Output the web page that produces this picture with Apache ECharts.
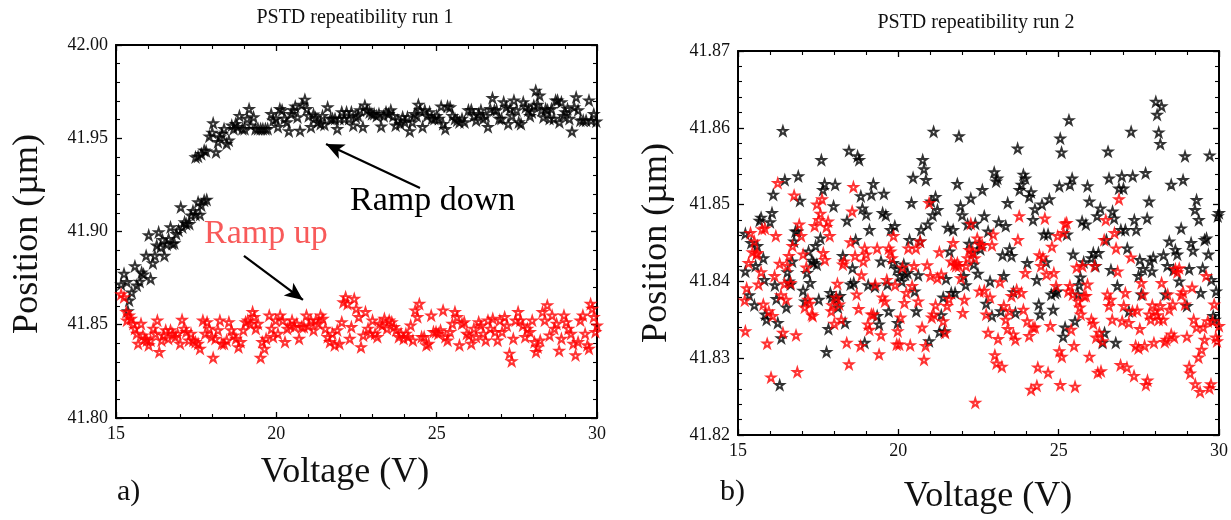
<!DOCTYPE html>
<html><head><meta charset="utf-8">
<script src="https://cdn.jsdelivr.net/npm/echarts@6/dist/echarts.min.js"></script>
<style>html,body{margin:0;padding:0;background:#fff}#c{width:1231px;height:520px}</style>
</head><body><div id="c"></div>
<script>
// ---------- axis ranges / ticks ----------
const xRange = [15, 30], xStep = 5;
const yRange1 = [41.80, 42.00], yStep1 = 0.05;
const yRange2 = [41.82, 41.87], yStep2 = 0.01;
const titles = ['PSTD repeatibility run 1', 'PSTD repeatibility run 2'];

// ---------- run 1 (panel a) ----------
const run1Down = [
[15.16,41.8716],[15.25,41.8773],[15.34,41.8729],[15.41,41.863],[15.37,41.8573],[15.49,41.8673],[15.59,41.8814],[15.65,41.871],[15.74,41.873],[15.80,41.878],
[15.86,41.877],[15.94,41.887],[16.02,41.898],[16.08,41.8746],[16.15,41.883],[16.21,41.887],[16.27,41.8925],[16.33,41.8996],[16.39,41.8916],[16.45,41.8955],
[16.51,41.887],[16.58,41.893],[16.64,41.896],[16.70,41.9023],[16.76,41.8934],[16.82,41.8937],[16.88,41.8987],[16.95,41.9005],[17.02,41.913],[17.07,41.9023],
[17.14,41.905],[17.19,41.904],[17.29,41.904],[17.34,41.9086],[17.40,41.911],[17.48,41.909],[17.56,41.9157],[17.62,41.909],[17.66,41.914],[17.75,41.9166],[17.83,41.917],
[17.48,41.9398],[17.56,41.9402],[17.66,41.9416],[17.75,41.9434],[17.81,41.943],[17.91,41.951],[18.00,41.953],[18.03,41.958],[18.12,41.9425],[18.18,41.948],
[18.24,41.9505],[18.30,41.9523],[18.37,41.955],[18.45,41.947],[18.52,41.9488],[18.61,41.9568],[18.67,41.955],[18.73,41.9577],[18.79,41.956],[18.85,41.962],
[18.94,41.955],[19.01,41.955],[19.09,41.9604],[19.15,41.9657],[19.21,41.9568],[19.29,41.9613],[19.35,41.955],[19.43,41.955],[19.51,41.955],[19.58,41.955],
[19.66,41.955],[19.73,41.955],[19.84,41.963],[19.90,41.9595],[19.99,41.9604],[20.05,41.956],[20.11,41.9657],[20.18,41.965],[20.25,41.9604],[20.33,41.9586],
[20.39,41.9538],[20.46,41.963],[20.52,41.965],[20.59,41.967],[20.66,41.9613],[20.74,41.954],[20.80,41.968],[20.89,41.9707],[20.95,41.9657],[21.01,41.962],
[21.08,41.956],[21.16,41.9627],[21.22,41.961],[21.29,41.9586],[21.38,41.9577],[21.44,41.962],[21.50,41.9573],[21.60,41.9666],[21.69,41.9604],[21.75,41.9604],
[21.83,41.9604],[21.90,41.955],[21.97,41.9604],[22.04,41.964],[22.12,41.9604],[22.19,41.964],[22.27,41.9604],[22.34,41.964],[22.40,41.9568],[22.48,41.9613],
[22.55,41.962],[22.61,41.965],[22.70,41.956],[22.76,41.9675],[22.83,41.965],[22.91,41.964],[22.98,41.963],[23.05,41.963],[23.13,41.962],[23.20,41.963],
[23.27,41.9563],[23.35,41.962],[23.42,41.964],[23.50,41.963],[23.57,41.965],[23.65,41.962],[23.72,41.9568],[23.79,41.9595],[23.87,41.9577],[23.94,41.9613],
[24.01,41.9586],[24.09,41.9613],[24.16,41.9538],[24.24,41.9586],[24.31,41.963],[24.38,41.962],[24.43,41.968],[24.48,41.965],[24.56,41.956],[24.63,41.965],
[24.70,41.962],[24.78,41.964],[24.85,41.9604],[24.93,41.9604],[25.00,41.962],[25.07,41.9604],[25.14,41.967],[25.20,41.9577],[25.27,41.955],[25.34,41.967],
[25.42,41.9666],[25.49,41.962],[25.57,41.9604],[25.64,41.9595],[25.71,41.9586],[25.79,41.9604],[25.87,41.9586],[25.99,41.965],[26.08,41.9652],[26.16,41.962],
[26.23,41.9595],[26.31,41.963],[26.38,41.965],[26.45,41.9604],[26.53,41.962],[26.60,41.956],[26.67,41.9657],[26.74,41.9716],[26.80,41.965],[26.87,41.965],
[26.95,41.9604],[27.02,41.9604],[27.09,41.9693],[27.17,41.9666],[27.23,41.9577],[27.29,41.9657],[27.35,41.962],[27.41,41.9702],[27.49,41.965],[27.56,41.9586],
[27.63,41.9577],[27.70,41.9693],[27.78,41.9666],[27.86,41.965],[27.91,41.962],[27.97,41.964],[28.03,41.9675],[28.09,41.9755],[28.15,41.968],[28.21,41.9729],
[28.27,41.965],[28.33,41.9613],[28.40,41.9657],[28.46,41.965],[28.52,41.9604],[28.58,41.9657],[28.65,41.9604],[28.71,41.9702],[28.77,41.9702],[28.83,41.9586],
[28.89,41.9693],[28.95,41.962],[29.01,41.964],[29.08,41.9657],[29.14,41.9604],[29.22,41.9536],[29.29,41.9666],[29.35,41.972],[29.41,41.965],[29.48,41.9595],
[29.57,41.9595],[29.66,41.9595],[29.75,41.9702],[29.82,41.9595],[29.90,41.963],[29.98,41.959]
];
const run1Up = [
[15.16,41.8663],[15.25,41.8648],[15.32,41.8568],[15.34,41.8523],[15.41,41.855],[15.47,41.8532],[15.54,41.8505],[15.59,41.8479],[15.65,41.8452],[15.69,41.8398],
[15.78,41.8505],[15.84,41.8443],[15.90,41.8425],[15.96,41.8416],[16.02,41.839],[16.08,41.8416],[16.16,41.8479],[16.23,41.8452],[16.29,41.8523],[16.35,41.8354],
[16.42,41.8416],[16.48,41.8443],[16.55,41.847],[16.63,41.8425],[16.70,41.847],[16.77,41.8452],[16.85,41.8434],[16.92,41.8452],[17.00,41.8398],[17.06,41.8527],
[17.12,41.8479],[17.19,41.8461],[17.27,41.8416],[17.34,41.8452],[17.41,41.8416],[17.48,41.8407],[17.56,41.8398],[17.62,41.8371],[17.71,41.8523],[17.78,41.8452],
[17.84,41.8514],[17.91,41.8479],[17.98,41.8434],[18.03,41.8323],[18.10,41.8425],[18.18,41.847],[18.24,41.8523],[18.30,41.8398],[18.37,41.8398],[18.45,41.8416],
[18.52,41.8514],[18.60,41.847],[18.67,41.8443],[18.74,41.8425],[18.82,41.838],[18.89,41.8407],[18.97,41.847],[19.04,41.8514],[19.11,41.8523],[19.19,41.8505],
[19.26,41.8568],[19.31,41.8541],[19.36,41.8479],[19.43,41.8505],[19.51,41.8323],[19.56,41.8407],[19.63,41.8371],[19.68,41.8425],[19.78,41.855],[19.85,41.8479],
[19.90,41.8434],[19.98,41.8523],[20.05,41.8452],[20.12,41.855],[20.20,41.8523],[20.27,41.8407],[20.34,41.8479],[20.42,41.8496],[20.49,41.8523],[20.57,41.8488],
[20.64,41.8505],[20.71,41.8425],[20.79,41.8488],[20.86,41.8488],[20.94,41.855],[21.01,41.8496],[21.08,41.8523],[21.16,41.847],[21.23,41.8523],[21.31,41.8505],
[21.38,41.855],[21.45,41.8532],[21.53,41.8479],[21.60,41.8434],[21.67,41.8407],[21.75,41.8452],[21.82,41.839],[21.90,41.847],[21.97,41.8398],[22.04,41.8514],
[22.09,41.8621],[22.16,41.8648],[22.22,41.8612],[22.29,41.8425],[22.34,41.8488],[22.43,41.8639],[22.49,41.8586],[22.57,41.8541],[22.64,41.838],[22.71,41.8443],
[22.78,41.8568],[22.86,41.8479],[22.93,41.8452],[23.00,41.8523],[23.08,41.8452],[23.15,41.8434],[23.23,41.8505],[23.30,41.8496],[23.37,41.8532],[23.45,41.8479],
[23.52,41.8523],[23.60,41.8514],[23.67,41.8488],[23.74,41.847],[23.82,41.8434],[23.89,41.8452],[23.97,41.8425],[24.04,41.8452],[24.11,41.8434],[24.19,41.8496],
[24.26,41.8416],[24.33,41.8577],[24.40,41.8541],[24.46,41.8612],[24.53,41.8434],[24.61,41.8434],[24.68,41.839],[24.75,41.8398],[24.83,41.855],[24.90,41.8461],
[24.98,41.8461],[25.05,41.8452],[25.12,41.847],[25.20,41.8577],[25.27,41.8434],[25.34,41.8416],[25.42,41.8461],[25.49,41.8505],[25.57,41.8568],[25.64,41.8541],
[25.71,41.839],[25.79,41.8505],[25.86,41.8514],[25.94,41.8452],[26.01,41.8443],[26.08,41.8398],[26.16,41.8479],[26.23,41.8434],[26.31,41.8514],[26.38,41.8496],
[26.45,41.8452],[26.53,41.8416],[26.60,41.8523],[26.67,41.8479],[26.75,41.8532],[26.82,41.8461],[26.90,41.8416],[26.97,41.8523],[27.04,41.8461],[27.12,41.8541],
[27.19,41.8496],[27.27,41.8345],[27.34,41.8305],[27.39,41.8425],[27.46,41.8523],[27.54,41.8568],[27.61,41.8523],[27.69,41.8496],[27.76,41.8434],[27.83,41.8479],
[27.91,41.8461],[27.98,41.8523],[28.05,41.8407],[28.10,41.8354],[28.15,41.838],[28.23,41.8416],[28.30,41.8568],[28.37,41.8523],[28.45,41.8604],[28.52,41.8443],
[28.60,41.855],[28.67,41.8479],[28.74,41.8505],[28.82,41.8361],[28.89,41.8425],[28.97,41.855],[29.04,41.8514],[29.11,41.8479],[29.19,41.8452],[29.26,41.8398],
[29.33,41.8336],[29.41,41.8407],[29.48,41.8523],[29.56,41.855],[29.63,41.8452],[29.70,41.839],[29.75,41.8371],[29.80,41.8612],[29.85,41.8586],[29.90,41.8541],
[29.95,41.8461],[30.00,41.8496]
];

// ---------- run 2 (panel b) ----------
const run2Black = [
[15.23,41.8462],[15.23,41.8413],[15.35,41.8382],[15.41,41.845],[15.51,41.8369],[15.55,41.842],[15.60,41.8446],[15.67,41.8479],[15.72,41.8483],[15.79,41.843],
[15.82,41.8402],[15.85,41.8357],[15.89,41.835],[16.00,41.8477],[16.06,41.8489],[16.10,41.8513],[16.15,41.8395],[16.20,41.8377],[16.24,41.8346],[16.30,41.8265],
[16.35,41.8326],[16.40,41.8596],[16.46,41.8532],[16.51,41.8366],[16.54,41.8412],[16.59,41.84],[16.64,41.8396],[16.69,41.8426],[16.75,41.8452],[16.79,41.8465],
[16.85,41.8465],[16.88,41.8537],[16.93,41.8505],[17.03,41.8388],[17.09,41.8374],[17.15,41.8411],[17.20,41.8439],[17.25,41.8398],[17.31,41.8427],[17.36,41.8424],
[17.42,41.8446],[17.46,41.8422],[17.52,41.8376],[17.57,41.8456],[17.60,41.8558],[17.65,41.8519],[17.70,41.8527],[17.76,41.8308],[17.82,41.8338],[17.88,41.8385],
[17.92,41.8379],[17.98,41.8498],[18.03,41.8526],[18.08,41.8377],[18.12,41.8366],[18.18,41.8381],[18.27,41.8433],[18.34,41.8346],[18.40,41.8479],[18.46,41.857],
[18.51,41.8396],[18.57,41.8417],[18.61,41.8398],[18.67,41.8454],[18.73,41.8563],[18.78,41.8558],[18.83,41.8511],[18.88,41.8495],[18.95,41.832],[19.00,41.8487],
[19.06,41.8395],[19.10,41.8467],[19.16,41.8513],[19.22,41.8527],[19.27,41.8393],[19.34,41.8355],[19.40,41.8344],[19.46,41.8426],[19.51,41.8489],[19.55,41.8514],
[19.61,41.8486],[19.66,41.8396],[19.70,41.8361],[19.76,41.8467],[19.83,41.8424],[19.89,41.8472],[19.95,41.8416],[19.98,41.8346],[20.04,41.8407],[20.11,41.84],
[20.17,41.8422],[20.21,41.8409],[20.29,41.8411],[20.35,41.8454],[20.41,41.8502],[20.46,41.8535],[20.51,41.8387],[20.56,41.8361],[20.62,41.8408],[20.68,41.8452],
[20.71,41.8467],[20.76,41.8558],[20.80,41.8546],[20.86,41.8532],[20.92,41.8474],[20.96,41.8322],[21.02,41.8504],[21.07,41.8486],[21.10,41.8595],[21.16,41.851],
[21.22,41.8493],[21.28,41.8334],[21.34,41.8356],[21.40,41.8379],[21.44,41.8335],[21.49,41.8403],[21.54,41.847],[21.60,41.8439],[21.65,41.8385],[21.71,41.8467],
[21.77,41.8385],[21.84,41.8527],[21.89,41.8589],[21.94,41.8498],[21.99,41.8486],[22.04,41.8407],[22.10,41.8395],[22.16,41.8474],[22.21,41.8449],[22.26,41.8508],
[22.32,41.8437],[22.35,41.8422],[22.40,41.8475],[22.48,41.841],[22.53,41.8449],[22.56,41.8442],[22.62,41.8519],[22.68,41.8485],[22.74,41.8371],[22.80,41.8465],
[22.86,41.84],[22.92,41.8355],[22.99,41.8542],[23.05,41.853],[23.09,41.8534],[23.13,41.8477],[23.20,41.8361],[23.25,41.8434],[23.29,41.8407],[23.35,41.8472],
[23.41,41.8502],[23.47,41.8442],[23.53,41.8433],[23.59,41.8386],[23.65,41.8359],[23.72,41.8573],[23.78,41.8519],[23.84,41.8526],[23.90,41.8539],[23.96,41.8534],
[24.02,41.8424],[24.08,41.851],[24.14,41.8516],[24.20,41.848],[24.26,41.8494],[24.32,41.8402],[24.38,41.837],[24.42,41.8357],[24.48,41.85],[24.54,41.8461],
[24.61,41.8425],[24.67,41.8461],[24.71,41.8507],[24.77,41.8383],[24.83,41.8363],[24.89,41.8385],[24.95,41.8387],[25.02,41.8524],[25.05,41.8586],[25.09,41.8568],
[25.14,41.8328],[25.20,41.834],[25.26,41.8461],[25.32,41.861],[25.35,41.8526],[25.42,41.8534],[25.45,41.8435],[25.51,41.8348],[25.60,41.8383],[25.64,41.8395],
[25.68,41.8405],[25.73,41.8478],[25.78,41.8425],[25.85,41.8474],[25.90,41.8524],[25.96,41.8504],[26.02,41.843],[26.08,41.8437],[26.15,41.842],[26.20,41.8485],
[26.24,41.8437],[26.30,41.8495],[26.37,41.832],[26.43,41.8333],[26.49,41.8454],[26.54,41.8569],[26.57,41.8534],[26.63,41.8415],[26.68,41.8491],[26.73,41.8482],
[26.78,41.832],[26.83,41.8394],[26.88,41.8521],[26.94,41.8467],[26.97,41.8537],[27.02,41.8521],[27.08,41.8467],[27.14,41.8443],[27.19,41.8361],[27.26,41.8595],
[27.31,41.8537],[27.36,41.848],[27.42,41.8467],[27.49,41.8407],[27.53,41.8428],[27.58,41.8383],[27.63,41.8416],[27.71,41.8541],[27.76,41.8482],[27.82,41.8504],
[27.85,41.8426],[27.91,41.8413],[27.95,41.8431],[28.03,41.8634],[28.07,41.8617],[28.12,41.8594],[28.17,41.8579],[28.21,41.8628],[28.27,41.8434],[28.33,41.8383],
[28.39,41.842],[28.45,41.8452],[28.51,41.8526],[28.58,41.8415],[28.64,41.8441],[28.70,41.8435],[28.76,41.84],[28.82,41.8469],[28.88,41.8532],[28.94,41.8563],
[29.00,41.8368],[29.07,41.8416],[29.13,41.845],[29.19,41.844],[29.25,41.8493],[29.30,41.8506],[29.37,41.848],[29.43,41.8385],[29.49,41.8417],[29.55,41.8454],
[29.61,41.8456],[29.67,41.8435],[29.71,41.8564],[29.76,41.8402],[29.82,41.8355],[29.87,41.835],[29.91,41.8387],[29.96,41.8485],[30.00,41.8489]
];
const run2Red = [
[15.21,41.8375],[15.23,41.8335],[15.27,41.8391],[15.33,41.8424],[15.39,41.8463],[15.45,41.8438],[15.51,41.8452],[15.57,41.8435],[15.60,41.8437],[15.64,41.8396],
[15.72,41.8412],[15.75,41.8468],[15.79,41.837],[15.84,41.8469],[15.91,41.8319],[15.96,41.8361],[16.03,41.8275],[16.08,41.8355],[16.14,41.8407],[16.18,41.8459],
[16.24,41.8528],[16.30,41.8423],[16.34,41.8382],[16.40,41.8333],[16.45,41.8397],[16.50,41.8376],[16.54,41.842],[16.59,41.8433],[16.64,41.8398],[16.70,41.8446],
[16.75,41.8512],[16.81,41.833],[16.85,41.8282],[16.91,41.8474],[16.97,41.8459],[17.03,41.8435],[17.08,41.8366],[17.13,41.8418],[17.18,41.8376],[17.24,41.8371],
[17.30,41.8357],[17.33,41.8355],[17.39,41.8472],[17.46,41.85],[17.52,41.848],[17.57,41.8488],[17.62,41.8507],[17.66,41.8437],[17.71,41.8428],[17.76,41.8471],
[17.81,41.8478],[17.86,41.8459],[17.91,41.8361],[17.94,41.8369],[18.00,41.8345],[18.06,41.8379],[18.10,41.8397],[18.16,41.837],[18.22,41.835],[18.27,41.8422],
[18.31,41.8426],[18.39,41.832],[18.46,41.8292],[18.51,41.8451],[18.56,41.8491],[18.60,41.8523],[18.65,41.8433],[18.70,41.8383],[18.76,41.8364],[18.82,41.8316],
[18.85,41.8408],[18.91,41.8426],[18.95,41.8443],[19.00,41.8435],[19.05,41.8344],[19.10,41.8337],[19.16,41.8357],[19.22,41.8357],[19.28,41.8396],[19.34,41.8443],
[19.40,41.8305],[19.46,41.833],[19.51,41.8379],[19.58,41.8374],[19.64,41.8402],[19.70,41.8443],[19.76,41.8439],[19.80,41.843],[19.85,41.8459],[19.90,41.8395],
[19.95,41.8318],[19.98,41.8335],[20.03,41.8318],[20.07,41.8353],[20.13,41.8418],[20.19,41.8372],[20.25,41.8385],[20.31,41.8443],[20.37,41.8317],[20.43,41.8394],
[20.49,41.842],[20.55,41.8443],[20.62,41.8374],[20.68,41.8452],[20.74,41.834],[20.80,41.8298],[20.85,41.8316],[20.90,41.8421],[20.96,41.8502],[21.00,41.8407],
[21.04,41.8353],[21.10,41.8357],[21.16,41.8369],[21.22,41.8404],[21.28,41.8438],[21.34,41.8409],[21.40,41.8348],[21.46,41.8333],[21.52,41.8368],[21.58,41.8377],
[21.65,41.8426],[21.71,41.845],[21.75,41.8422],[21.80,41.842],[21.84,41.8424],[21.89,41.842],[21.95,41.8404],[22.01,41.8359],[22.06,41.8376],[22.11,41.842],
[22.16,41.843],[22.21,41.8441],[22.26,41.8475],[22.32,41.8439],[22.38,41.843],[22.40,41.8242],[22.46,41.8456],[22.53,41.8387],[22.58,41.8447],[22.62,41.8447],
[22.68,41.8388],[22.74,41.8357],[22.80,41.8333],[22.86,41.8379],[22.92,41.8447],[22.96,41.8461],[23.01,41.8304],[23.06,41.8293],[23.11,41.8325],[23.17,41.8399],
[23.23,41.8289],[23.29,41.8368],[23.35,41.835],[23.41,41.8338],[23.47,41.8361],[23.53,41.8381],[23.59,41.8331],[23.65,41.8324],[23.69,41.8389],[23.73,41.8454],
[23.77,41.8485],[23.84,41.8385],[23.90,41.8363],[23.96,41.8411],[24.02,41.8348],[24.08,41.8329],[24.14,41.8259],[24.20,41.834],[24.26,41.834],[24.32,41.8264],
[24.35,41.8288],[24.40,41.8434],[24.45,41.842],[24.51,41.8431],[24.57,41.8482],[24.62,41.8409],[24.67,41.8281],[24.74,41.8342],[24.79,41.8445],[24.85,41.8411],
[24.92,41.8394],[24.97,41.8459],[25.02,41.8309],[25.05,41.8265],[25.10,41.8302],[25.15,41.8463],[25.20,41.8475],[25.25,41.8476],[25.30,41.8387],[25.35,41.8394],
[25.39,41.8337],[25.44,41.8383],[25.48,41.8316],[25.51,41.8263],[25.56,41.8418],[25.61,41.8374],[25.66,41.8366],[25.69,41.8357],[25.74,41.842],[25.79,41.8381],
[25.85,41.8381],[25.90,41.8396],[25.96,41.8302],[26.02,41.835],[26.08,41.8345],[26.12,41.842],[26.17,41.8327],[26.22,41.8281],[26.27,41.8333],[26.32,41.8283],
[26.37,41.8322],[26.42,41.8454],[26.47,41.848],[26.52,41.8383],[26.57,41.8368],[26.62,41.8376],[26.67,41.835],[26.74,41.8463],[26.79,41.8443],[26.84,41.8413],
[26.88,41.8507],[26.93,41.8291],[26.98,41.8348],[27.03,41.8368],[27.08,41.8385],[27.13,41.8288],[27.19,41.8346],[27.25,41.8431],[27.30,41.8361],[27.35,41.8277],
[27.40,41.8316],[27.45,41.8362],[27.49,41.8313],[27.53,41.8338],[27.58,41.8398],[27.63,41.8383],[27.68,41.8316],[27.72,41.8265],[27.77,41.8271],[27.82,41.8357],
[27.87,41.835],[27.92,41.8369],[27.97,41.832],[28.02,41.8361],[28.07,41.8356],[28.12,41.835],[28.17,41.8368],[28.21,41.8398],[28.26,41.835],[28.31,41.8321],
[28.36,41.8324],[28.40,41.8383],[28.45,41.8363],[28.51,41.8331],[28.56,41.837],[28.60,41.8327],[28.64,41.8416],[28.70,41.8412],[28.76,41.8417],[28.82,41.8382],
[28.88,41.8386],[28.94,41.837],[29.00,41.8328],[29.07,41.8289],[29.10,41.828],[29.16,41.8392],[29.21,41.835],[29.26,41.8266],[29.30,41.834],[29.36,41.8301],
[29.41,41.8256],[29.46,41.8311],[29.51,41.834],[29.55,41.8324],[29.60,41.8407],[29.65,41.8348],[29.70,41.8261],[29.75,41.8266],[29.80,41.8348],[29.85,41.837],
[29.90,41.8327],[29.94,41.8322],[30.00,41.8342]
];

// annotation arrows (data coordinates of panel a): [from, to]
const arrowDown = [[24.48, 41.9233], [21.55, 41.9469]];
const arrowUp   = [[18.99, 41.8869], [20.83, 41.8633]];

const STAR = 'path://M50,2 L61,36 L97,36 L68,57 L79,92 L50,71 L21,92 L32,57 L3,36 L39,36 Z';
const SERIF = 'Liberation Serif';
const chart = echarts.init(document.getElementById('c'));

function xAx(grid, pos, showLabel) {
  return {
    type: 'value', gridIndex: grid, position: pos, min: xRange[0], max: xRange[1], interval: xStep,
    axisLine: { show: true, onZero: false, lineStyle: { color: '#000', width: 2 } },
    axisTick: { show: true, inside: true, length: 6, lineStyle: { color: '#000', width: 1.3 } },
    minorTick: { show: true, splitNumber: 5, length: 4, lineStyle: { color: '#000', width: 1.1 } },
    splitLine: { show: false },
    axisLabel: { show: showLabel, color: '#111', fontFamily: SERIF, fontSize: 18, margin: 7 }
  };
}
function yAx(grid, pos, showLabel, range, step) {
  return {
    type: 'value', gridIndex: grid, position: pos, min: range[0], max: range[1], interval: step,
    axisLine: { show: true, onZero: false, lineStyle: { color: '#000', width: 2 } },
    axisTick: { show: true, inside: true, length: 6, lineStyle: { color: '#000', width: 1.3 } },
    minorTick: { show: true, splitNumber: 5, length: 4, lineStyle: { color: '#000', width: 1.1 } },
    splitLine: { show: false },
    axisLabel: { show: showLabel, color: '#111', fontFamily: SERIF, fontSize: 18, margin: 8,
      formatter: v => v.toFixed(2) }
  };
}
function sc(name, data, xi, yi, color, extra) {
  return Object.assign({
    name, type: 'scatter', data, xAxisIndex: xi, yAxisIndex: yi,
    symbol: STAR, symbolSize: 8.5,
    itemStyle: { color: 'rgba(255,255,255,0)', borderColor: color, borderWidth: 1.9 },
    silent: true
  }, extra || {});
}
const arrowMark = (a) => ({
  silent: true, symbol: ['none', 'arrow'], symbolSize: [12, 18],
  label: { show: false },
  lineStyle: { color: '#000', width: 2.2, type: 'solid' },
  data: [[{ coord: a[0] }, { coord: a[1] }]]
});

chart.setOption({
  animation: false,
  backgroundColor: '#fff',
  grid: [
    { left: 116, top: 45, width: 481, height: 373 },
    { left: 738, top: 51, width: 482, height: 384 }
  ],
  xAxis: [xAx(0, 'bottom', true), xAx(0, 'top', false), xAx(1, 'bottom', true), xAx(1, 'top', false)],
  yAxis: [yAx(0, 'left', true, yRange1, yStep1), yAx(0, 'right', false, yRange1, yStep1),
          yAx(1, 'left', true, yRange2, yStep2), yAx(1, 'right', false, yRange2, yStep2)],
  series: [
    sc('Ramp down', run1Down, 0, 0, '#000', { markLine: arrowMark(arrowDown) }),
    sc('Ramp up', run1Up, 0, 0, '#f00', { markLine: arrowMark(arrowUp) }),
    sc('run2 black', run2Black, 2, 2, '#000'),
    sc('run2 red', run2Red, 2, 2, '#f00')
  ],
  graphic: [
    { type: 'text', x: 355, y: 18, style: { text: titles[0], font: '20px "Liberation Serif"', fill: '#111', textAlign: 'center', textVerticalAlign: 'middle' } },
    { type: 'text', x: 976, y: 23, style: { text: titles[1], font: '20px "Liberation Serif"', fill: '#111', textAlign: 'center', textVerticalAlign: 'middle' } },
    { type: 'text', x: 345, y: 473, style: { text: 'Voltage (V)', font: '36px "Liberation Serif"', fill: '#111', textAlign: 'center', textVerticalAlign: 'middle' } },
    { type: 'text', x: 988, y: 497, style: { text: 'Voltage (V)', font: '36px "Liberation Serif"', fill: '#111', textAlign: 'center', textVerticalAlign: 'middle' } },
    { type: 'text', x: 28, y: 234, rotation: Math.PI / 2, style: { text: 'Position (µm)', font: '36px "Liberation Serif"', fill: '#111', textAlign: 'center', textVerticalAlign: 'middle' } },
    { type: 'text', x: 657, y: 243, rotation: Math.PI / 2, style: { text: 'Position (µm)', font: '36px "Liberation Serif"', fill: '#111', textAlign: 'center', textVerticalAlign: 'middle' } },
    { type: 'text', x: 117, y: 492, style: { text: 'a)', font: '30px "Liberation Serif"', fill: '#111', textAlign: 'left', textVerticalAlign: 'middle' } },
    { type: 'text', x: 720, y: 492, style: { text: 'b)', font: '30px "Liberation Serif"', fill: '#111', textAlign: 'left', textVerticalAlign: 'middle' } },
    { type: 'text', x: 350, y: 201, style: { text: 'Ramp down', font: '34px "Liberation Serif"', fill: '#000', textAlign: 'left', textVerticalAlign: 'middle' } },
    { type: 'text', x: 204, y: 234, style: { text: 'Ramp up', font: '34px "Liberation Serif"', fill: '#f85a5a', textAlign: 'left', textVerticalAlign: 'middle' } }
  ]
});
</script></body></html>
